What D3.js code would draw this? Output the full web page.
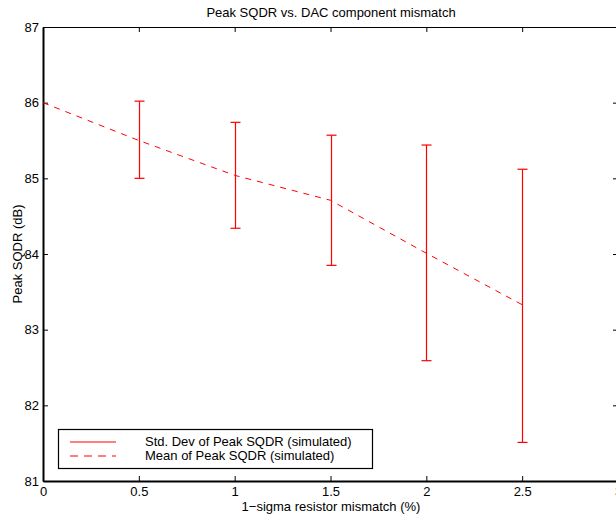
<!DOCTYPE html>
<html><head><meta charset="utf-8">
<script src="https://cdn.jsdelivr.net/npm/d3@7"></script>
<style>
html,body{margin:0;padding:0;background:#fff;}
svg text{font-family:"Liberation Sans",Arial,Helvetica,sans-serif;font-size:13px;fill:#000;}
</style></head>
<body>
<svg id="chart" width="616" height="517"></svg>
<script>
const mismatch = [0, 0.5, 1, 1.5, 2, 2.5];
const meanSQDR = [86.0, 85.5, 85.04, 84.71, 84.01, 83.33];
const errX = [0.5, 1, 1.5, 2, 2.5];
const errLow = [85.0, 84.34, 83.85, 82.59, 81.51];
const errHigh = [86.02, 85.74, 85.57, 85.44, 85.12];
const xTicks = [0, 0.5, 1, 1.5, 2, 2.5, 3];
const yTicks = [81, 82, 83, 84, 85, 86, 87];

(function () {
const svg = d3.select("#chart");
const pL = 43, pR = 618, pT = 27, pB = 481;
const x = d3.scaleLinear().domain([0, 3]).range([pL, pR]);
const y = d3.scaleLinear().domain([81, 87]).range([pB, pT]);
const red = "#ff0000";
const FONT = '"Liberation Sans",Arial,sans-serif';

svg.append("text").attr("x", 331).attr("y", 17)
  .attr("text-anchor", "middle").text("Peak SQDR vs. DAC component mismatch");

svg.append("line").attr("x1", pL).attr("x2", pR).attr("y1", pT + 0.5).attr("y2", pT + 0.5)
  .attr("stroke", "#000").attr("stroke-width", 1);
svg.append("line").attr("x1", pR).attr("x2", pR).attr("y1", pT).attr("y2", pB)
  .attr("stroke", "#000").attr("stroke-width", 1);

const xAxis = d3.axisBottom(x).tickValues(xTicks).tickFormat(d3.format("")).tickSizeInner(-5).tickSizeOuter(0).tickPadding(5.5);
const gx = svg.append("g").attr("transform", `translate(0,${pB})`).call(xAxis);
const xTop = d3.axisTop(x).tickValues(xTicks).tickFormat("").tickSizeInner(-5).tickSizeOuter(0);
const gxt = svg.append("g").attr("transform", `translate(0,${pT})`).call(xTop);
gxt.select(".domain").remove();

const yAxis = d3.axisLeft(y).tickValues(yTicks).tickFormat(d3.format("")).tickSizeInner(-5).tickSizeOuter(0).tickPadding(4);
const gy = svg.append("g").attr("transform", `translate(${pL},0)`).call(yAxis);
const yRight = d3.axisRight(y).tickValues(yTicks).tickFormat("").tickSizeInner(-5).tickSizeOuter(0);
const gyr = svg.append("g").attr("transform", `translate(${pR},0)`).call(yRight);
gyr.select(".domain").remove();

[gx, gy, gxt, gyr].forEach(g => {
  g.attr("font-family", null).attr("font-size", null);
  g.selectAll("text").style("font-family", FONT).style("font-size", "13px").attr("fill", "#000");
  g.selectAll(".tick line").attr("stroke", "#000");
});
gx.select(".domain").attr("stroke", "#000").attr("stroke-width", 2);
gy.select(".domain").attr("stroke", "#000").attr("stroke-width", 2);

svg.append("text").attr("x", 331).attr("y", 511)
  .attr("text-anchor", "middle").text("1\u2212sigma resistor mismatch (%)");
svg.append("text").attr("transform", `translate(22,${(pT + pB) / 2}) rotate(-90)`)
  .attr("text-anchor", "middle").text("Peak SQDR (dB)");

const line = d3.line().x((d, i) => x(mismatch[i])).y(d => y(d));
svg.append("path").datum(meanSQDR).attr("d", line)
  .attr("fill", "none").attr("stroke", red).attr("stroke-width", 1).attr("stroke-dasharray", "6,6");

const eb = svg.append("g");
errX.forEach((xv, i) => {
  const cx = Math.round(x(xv)) + 0.5;
  eb.append("line").attr("x1", cx).attr("x2", cx).attr("y1", y(errLow[i])).attr("y2", y(errHigh[i]))
    .attr("stroke", red).attr("stroke-width", 1.2);
  [errLow[i], errHigh[i]].forEach(v => {
    eb.append("line").attr("x1", cx - 5).attr("x2", cx + 5).attr("y1", y(v)).attr("y2", y(v))
      .attr("stroke", red).attr("stroke-width", 1.2);
  });
});

const lg = svg.append("g");
lg.append("rect").attr("x", 58.5).attr("y", 429.5).attr("width", 314).attr("height", 39)
  .attr("fill", "#fff").attr("stroke", "#000").attr("stroke-width", 1.2);
lg.append("line").attr("x1", 70).attr("x2", 116).attr("y1", 442).attr("y2", 442)
  .style("stroke", red).style("stroke-width", 1.2);
lg.append("line").attr("x1", 70).attr("x2", 116).attr("y1", 456).attr("y2", 456)
  .style("stroke", red).style("stroke-width", 1.2).style("stroke-dasharray", "8,6");
lg.append("text").attr("x", 145).attr("y", 446).text("Std. Dev of Peak SQDR (simulated)");
lg.append("text").attr("x", 145).attr("y", 460).text("Mean of Peak SQDR (simulated)");
})();
</script>
</body></html>
